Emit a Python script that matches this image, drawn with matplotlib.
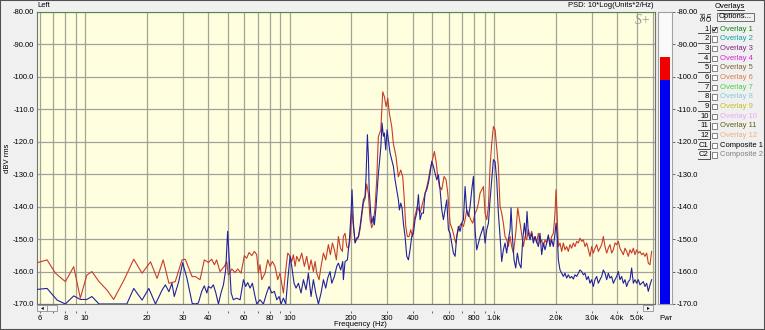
import matplotlib
matplotlib.use("Agg")
import matplotlib.pyplot as plt
from matplotlib.patches import Rectangle
from matplotlib.lines import Line2D
from matplotlib.ticker import FixedLocator, NullLocator, NullFormatter

plt.rcParams['font.family'] = ['Liberation Sans', 'DejaVu Sans']

# ---- spectrum traces (frequency in Hz, PSD in dB) ----
freq_red = [
    5.82, 6.52, 7.16, 8.01, 8.80, 9.48, 10.2, 10.8, 11.7, 12.8, 13.8, 15.5, 17.3, 19.0, 20.9, 22.5,
    24.1, 25.7, 27.6, 29.8, 30.9, 33.4,
    34.5, 36.5, 38.3, 40.1, 41.6, 42.9, 44.0, 45.7, 48.0, 49.3, 50.2, 52.2, 54.1, 55.8, 57.9, 60.1,
    61.7, 63.4, 65.3, 67.3, 69.1, 70.4, 71.7, 73.1, 75.9, 78.2, 80.3, 82.4, 84.9, 87.5, 89.8, 93.3,
    95.8, 98.0, 100.6, 102.5, 104.4, 106.4, 108.4, 111.3, 114.7, 118.2, 121.3, 124.5, 127.4, 130.8,
    133.3, 135.8, 139.4, 142.6, 146.4, 150.3, 154.8, 158.4, 162.0, 165.7, 169.4, 173.3, 177.3, 181.3,
    183.3, 186.8, 190.4, 194.0, 197.6, 201.4, 205.2, 209.1, 213.0, 217.1, 221.2, 225.4, 229.6, 234.0,
    238.4, 242.9, 247.5, 252.2, 257.0, 261.9, 266.8, 271.8, 279.3, 285.6, 290.9, 296.5, 302.2, 307.6,
    316.0, 321.8, 331.7, 340.4, 349.8, 357.7, 363.0, 370.0, 376.9, 384.1, 391.3, 398.8, 406.4, 414.0,
    421.9, 434.7, 451.4, 465.3, 477.5, 486.6, 499.6, 510.9, 520.6, 530.5, 540.6, 554.9, 569.6, 582.7,
    593.7, 609.5, 625.8, 637.6, 649.7, 661.9, 677.1, 692.6, 708.3, 721.7, 735.4, 749.3, 769.3, 786.8,
    807.7, 823.0, 838.6, 854.5, 870.7, 887.2, 904.0, 921.1, 938.6, 956.3, 974.4, 992.9, 1011.7,
    1049.9, 1069.9, 1090.1, 1110.8, 1131.7, 1153.2, 1175.0, 1197.4, 1219.9, 1243.2, 1276.4, 1305.6,
    1325.2, 1355.3, 1391.4, 1417.4, 1444.6, 1471.5, 1499.4, 1527.8, 1556.7, 1586.2, 1616.2, 1646.8,
    1678.0, 1709.8, 1742.3, 1775.2, 1808.9, 1843.0, 1878.1, 1913.5, 1949.9, 1986.7, 2009.2, 2039.2,
    2062.6, 2101.7, 2141.5, 2182.1, 2223.4, 2265.6, 2308.4, 2352.2, 2396.6, 2442.2, 2488.3, 2535.6,
    2583.4, 2632.6, 2682.2, 2733.3, 2784.7, 2837.8, 2891.2, 2946.3, 3001.7, 3058.9, 3116.5, 3175.9,
    3235.6, 3297.3, 3359.3, 3423.4, 3487.8, 3554.3, 3621.1, 3690.2, 3759.5, 3831.3, 3903.3, 3977.8,
    4052.5, 4129.9, 4207.4, 4287.8, 4368.3, 4451.8, 4535.3, 4622.0, 4708.7, 4798.7, 4888.7, 4982.2,
    5075.6, 5172.7, 5269.7, 5370.5, 5471.1, 5575.9, 5680.3, 5789.1, 5897.5,
]
psd_red = [
    -157.3, -156.4, -160.5, -163.1, -158.5, -168.2, -161.1, -160.0, -163.1, -165.7, -168.6, -162.6,
    -156.2, -160.5, -157.0, -162.1, -156.4, -163.6, -163.1, -156.4, -156.2, -161.6,
    -161.5, -162.5, -156.4, -157.2, -156.2, -157.9, -156.4, -160.0, -158.4, -156.9, -161.0, -159.2,
    -160.3, -159.2, -160.5, -155.1, -155.9, -154.1, -155.1, -153.8, -154.8, -160.5, -157.9, -162.5,
    -160.5, -156.4, -158.4, -156.9, -158.4, -162.5, -160.5, -166.6, -159.5, -154.3, -155.3, -156.9,
    -154.8, -158.4, -155.3, -156.9, -154.3, -158.4, -155.3, -159.5, -156.4, -160.0, -156.9, -160.5,
    -162.5, -158.4, -154.3, -156.4, -151.7, -154.8, -151.2, -153.3, -156.4, -149.2, -152.8, -153.8,
    -149.2, -148.2, -152.3, -152.8, -150.2, -141.0, -146.0, -151.0, -150.0, -149.5, -147.0, -143.0,
    -139.0, -137.5, -133.0, -136.0, -144.0, -146.5, -145.1, -140.0, -131.7, -118.4, -116.4, -104.6,
    -106.1, -109.2, -106.6, -111.2, -115.3, -120.5, -124.6, -130.8, -128.7, -130.8, -136.5, -146.1,
    -149.2, -149.2, -147.1, -149.2, -144.0, -142.0, -139.9, -142.0, -137.9, -134.8, -131.7, -128.6,
    -125.5, -123.0, -126.1, -130.7, -133.8, -134.8, -130.7, -131.7, -135.8, -145.1, -147.1, -149.2,
    -151.2, -148.2, -146.1, -145.1, -146.1, -144.0, -141.0, -142.0, -144.0, -145.1, -142.0, -141.0,
    -138.9, -135.8, -134.8, -133.8, -142.0, -144.0, -139.9, -127.6, -120.4, -115.3, -116.3,
    -127.6, -139.9, -142.0, -145.1, -149.2, -150.2, -152.3, -149.2, -152.3, -154.3, -148.2, -140.4,
    -143.0, -147.1, -152.3, -149.2, -150.2, -147.1, -149.2, -147.6, -150.2, -149.2, -151.2, -148.2,
    -151.2, -150.2, -152.3, -150.2, -151.2, -149.2, -151.2, -149.2, -148.2, -142.0, -134.8, -144.0,
    -152.3, -151.2, -153.8, -151.2, -153.3, -152.3, -153.8, -151.7, -152.8, -151.2, -152.3, -150.7,
    -151.2, -149.7, -150.7, -150.2, -152.3, -151.2, -153.3, -155.3, -152.3, -154.3, -152.8, -151.7,
    -153.8, -152.8, -151.7, -149.2, -152.3, -154.3, -152.8, -151.7, -154.3, -153.3, -151.2, -151.7,
    -150.7, -152.8, -153.8, -154.8, -152.8, -153.8, -155.3, -153.3, -154.3, -152.8, -154.8, -153.3,
    -154.3, -153.8, -154.8, -154.3, -155.3, -154.3, -157.4, -157.9, -153.8,
]

freq_blue = [
    5.82, 6.52, 7.30, 8.01, 8.80, 9.48, 10.2, 10.8, 11.7, 16.0, 17.3, 19.0, 20.5, 22.1, 23.8, 24.7,
    25.7, 26.6, 27.3, 28.7, 30.0, 31.5, 33.4,
    34.5, 35.8, 37.2, 38.3, 39.4, 40.1, 41.3, 42.4, 43.6, 44.9, 46.2, 47.5, 48.7, 49.8, 50.6, 51.8,
    53.1, 55.1, 57.3, 59.5, 61.0, 62.4, 64.1, 65.8, 67.8, 69.1, 71.7, 74.5, 77.3, 79.4, 81.8, 84.3,
    86.6, 88.9, 90.9, 93.3, 95.8, 98.0, 100.6, 102.5, 105.2, 107.6, 110.5, 113.8, 116.9, 120.4, 123.6,
    127.4, 130.8, 134.3, 138.4, 142.6, 146.4, 150.3, 153.7, 157.8, 160.8, 165.7, 170.1, 173.3, 177.9,
    182.0,
    183.3, 186.8, 191.8, 196.2, 199.9, 202.1, 205.2, 209.1, 213.0, 217.1, 221.2, 225.4, 229.6, 234.0,
    236.6, 240.2, 242.9, 245.1, 249.4, 252.2, 257.0, 259.9, 264.9, 268.9, 271.9, 275.0, 279.6, 283.3,
    287.6, 290.9, 295.3, 299.8, 304.3, 310.1, 315.9, 321.9, 328.0, 334.3, 340.6, 344.5, 349.6, 355.0,
    360.3, 367.2, 374.1, 381.2, 388.4, 395.8, 403.3, 410.9, 418.7, 426.7, 434.7, 443.0, 451.4, 459.9,
    468.7, 477.5, 486.6, 495.8, 505.2, 514.8, 524.5, 534.5, 544.6, 554.9, 565.4, 576.1, 587.1, 598.2,
    609.5, 621.1, 632.8, 644.8, 657.0, 669.5, 682.2, 695.1, 708.3, 721.7, 735.4, 749.3, 763.5, 778.0,
    792.7, 807.7, 823.0, 838.6, 854.5, 870.7, 887.2, 904.0, 921.1, 938.6, 956.3, 974.4, 992.9,
    1011.3, 1030.4, 1049.9, 1069.9, 1090.1, 1110.8, 1131.7, 1153.2, 1175.0, 1197.4, 1211.0, 1229.2,
    1252.6, 1276.4, 1300.5, 1325.2, 1355.3, 1381.0, 1407.2, 1428.5, 1450.0, 1471.5, 1499.4, 1527.8,
    1556.7, 1586.2, 1616.2, 1646.8, 1678.0, 1709.8, 1742.3, 1775.2, 1808.9, 1843.0, 1878.1, 1913.5,
    1949.9, 1986.7, 2009.2, 2039.2, 2062.6, 2101.7, 2141.5, 2182.1, 2223.4, 2265.6, 2308.4, 2352.2,
    2396.6, 2442.2, 2488.3, 2535.6, 2583.4, 2632.6, 2682.2, 2733.3, 2784.7, 2837.8, 2891.2, 2946.3,
    3001.7, 3058.9, 3116.5, 3175.9, 3235.6, 3297.3, 3359.3, 3423.4, 3487.8, 3554.3, 3621.1, 3690.2,
    3759.5, 3831.3, 3903.3, 3977.8, 4052.5, 4129.9, 4207.4, 4287.8, 4368.3, 4451.8, 4535.3, 4622.0,
    4708.7, 4798.7, 4888.7, 4982.2, 5075.6, 5172.7, 5269.7, 5370.5, 5471.1, 5575.9, 5680.3, 5789.1,
    5897.5,
]
psd_blue = [
    -165.5, -165.2, -168.8, -170.0, -167.5, -168.6, -168.6, -167.7, -170.0, -170.0, -165.2, -168.8,
    -165.2, -170.0, -165.7, -164.1, -166.2, -163.6, -167.7, -163.1, -157.3, -162.1, -169.8,
    -170.0, -169.7, -166.1, -164.4, -166.6, -164.6, -165.1, -164.1, -166.6, -170.0, -166.6, -164.1,
    -159.5, -147.6, -155.3, -166.6, -168.7, -168.2, -168.7, -162.5, -164.6, -163.4, -165.1, -163.6,
    -167.7, -170.0, -168.7, -170.0, -166.6, -164.6, -166.6, -166.1, -168.7, -167.7, -170.0, -168.2,
    -170.0, -162.5, -155.3, -158.4, -163.6, -165.1, -163.6, -166.6, -162.5, -165.6, -160.5, -167.7,
    -162.5, -166.6, -170.0, -166.6, -162.5, -165.1, -162.0, -160.0, -163.6, -161.5, -158.4, -157.4,
    -159.5, -156.9,
    -162.5, -156.9, -156.4, -150.2, -142.0, -134.8, -145.1, -151.2, -149.7, -149.2, -146.1, -142.0,
    -137.9, -136.8, -130.7, -117.8, -124.5, -134.8, -142.0, -145.1, -143.0, -145.6, -139.9, -133.8,
    -129.7, -126.6, -121.4, -114.2, -118.3, -117.3, -122.5, -116.3, -119.4, -123.5, -125.5, -127.6,
    -131.7, -134.8, -137.9, -141.0, -138.9, -140.4, -145.1, -149.2, -155.3, -156.4, -153.3, -149.2,
    -148.2, -144.0, -142.0, -136.3, -144.0, -142.0, -142.0, -135.8, -134.8, -132.7, -129.7, -126.1,
    -127.6, -129.7, -131.7, -130.2, -134.8, -140.9, -144.0, -141.0, -137.9, -147.1, -148.2, -151.2,
    -154.3, -155.3, -149.2, -146.1, -147.6, -145.1, -144.0, -133.8, -141.5, -143.0, -140.0, -134.8,
    -130.7, -147.1, -153.3, -151.2, -149.2, -147.6, -146.1, -151.2, -147.1, -145.1, -137.9, -131.7,
    -125.5,
    -126.1, -131.7, -142.0, -149.2, -156.9, -153.3, -151.2, -154.3, -150.2, -147.1, -140.4, -149.2,
    -156.4, -158.9, -154.3, -157.4, -158.9, -150.2, -145.1, -149.2, -141.5, -148.2, -150.2, -148.2,
    -151.2, -149.2, -150.7, -152.3, -148.2, -154.8, -151.2, -153.3, -151.2, -148.7, -152.3, -150.2,
    -152.3, -148.2, -145.1, -149.2, -156.4, -159.5, -160.5, -161.5, -160.5, -162.0, -161.0, -162.0,
    -161.5, -162.3, -161.0, -161.5, -160.5, -159.5, -160.0, -161.0, -160.5, -162.5, -161.5, -163.6,
    -162.5, -164.6, -162.5, -161.5, -163.6, -162.5, -161.5, -159.5, -160.5, -162.5, -160.5, -162.0,
    -161.5, -163.6, -162.5, -161.5, -160.0, -162.5, -161.5, -163.6, -162.5, -164.6, -163.1, -162.5,
    -158.9, -163.6, -162.5, -163.6, -162.5, -164.1, -163.6, -163.1, -164.6, -163.6, -166.1, -164.1,
    -162.5,
]

# ---- power meter ----
pwr_level = -101.0
pwr_peak = -93.9

# ---- axes ticks ----
y_ticks = [-80, -90, -100, -110, -120, -130, -140, -150, -160, -170]
y_tick_labels = ['-80.00', '-90.00', '-100.0', '-110.0', '-120.0', '-130.0',
                 '-140.0', '-150.0', '-160.0', '-170.0']
x_ticks = [6, 8, 10, 20, 30, 40, 60, 80, 100, 200, 300, 400, 600, 800,
           1000, 2000, 3000, 4000, 5000]
x_tick_labels = ['6', '8', '10', '20', '30', '40', '60', '80', '100', '200', '300',
                 '400', '600', '800', '1.0k', '2.0k', '3.0k', '4.0k', '5.0k']
x_minor_ticks = [7, 9, 50, 70, 90, 500, 700, 900]
grid_freqs = [6, 7, 8, 9, 10, 20, 30, 40, 50, 60, 70, 80, 90, 100, 200, 300, 400,
              500, 600, 700, 800, 900, 1000, 2000, 3000, 4000, 5000, 6000]
f_min, f_max = 5.82, 6125.0
db_min, db_max = -170.0, -80.0

# ---- overlay list ----
sel_labels = ['1', '2', '3', '4', '5', '6', '7', '8', '9', '10', '11', '12', 'C1', 'C2']
overlay_names = ['Overlay 1', 'Overlay 2', 'Overlay 3', 'Overlay 4', 'Overlay 5',
                 'Overlay 6', 'Overlay 7', 'Overlay 8', 'Overlay 9', 'Overlay 10',
                 'Overlay 11', 'Overlay 12', 'Composite 1', 'Composite 2']
overlay_colors = ['#108010', '#10A0A8', '#802080', '#D820D8', '#806030', '#E07848',
                  '#40D040', '#88C8E0', '#C0C020', '#E8A8F0', '#606010', '#F0B078',
                  '#000000', '#808080']
overlay_on = [True] + [False] * 13

W, H = 765, 330
FS = 5.5


def box(x0, y0, x1, y1):
    return [x0 / W, 1 - y1 / H, (x1 - x0) / W, (y1 - y0) / H]


def fx(x):
    return x / W


def fy(y):
    return 1 - y / H


fig = plt.figure(figsize=(W / 100, H / 100), dpi=100)
fig.patch.set_facecolor('#F0F0F0')

# ---- main spectrum axes ----
ax = fig.add_axes(box(37, 12, 655, 304))
ax.set_facecolor('#FFFFE0')
ax.set_xscale('log')
ax.set_xlim(f_min, f_max)
ax.set_ylim(db_min, db_max)

for f in grid_freqs:
    ax.axvline(f, color='#A4A290', lw=0.9, zorder=1)
for v in y_ticks:
    ax.axhline(v, color='#A0A0A0', lw=0.9, zorder=1)

ax.plot(freq_red, psd_red, color='#C83C28', lw=0.8, zorder=3)
ax.plot(freq_blue, psd_blue, color='#22229C', lw=0.8, zorder=4)

ax.xaxis.set_major_locator(NullLocator())
ax.xaxis.set_minor_locator(NullLocator())
ax.set_yticks(y_ticks)
ax.set_yticklabels(y_tick_labels)
ax.tick_params(axis='y', length=0, pad=2, labelsize=FS)
for s in ax.spines.values():
    s.set_color('#707070')
    s.set_linewidth(0.8)
ax.spines['top'].set_color('#4E8A4A')

sec = ax.secondary_xaxis(-7 / 292)
sec.xaxis.set_major_locator(FixedLocator(x_ticks))
sec.set_xticklabels(x_tick_labels)
sec.xaxis.set_minor_locator(FixedLocator(x_minor_ticks))
sec.xaxis.set_minor_formatter(NullFormatter())
sec.tick_params(which='both', length=1.6, width=0.6, pad=1.2, labelsize=FS,
                direction='out', color='#505050')
sec.spines['bottom'].set_visible(False)

# scrollbar buttons under the plot
for (x0, x1, sym) in [(37, 47, '\u25c2'), (47, 57, ''), (643, 653, '\u25b8')]:
    fig.patches.append(Rectangle((fx(x0), fy(311)), (x1 - x0) / W, 6 / H,
                                 transform=fig.transFigure, facecolor='#F4F4F4',
                                 edgecolor='#909090', lw=0.6))
    if sym:
        fig.text(fx((x0 + x1) / 2), fy(308), sym, ha='center', va='center',
                 fontsize=4, family=['DejaVu Sans'])

# titles and axis captions
fig.text(fx(37), fy(5.5), 'Left', ha='left', va='center', fontsize=FS)
fig.text(fx(654), fy(5.5), 'PSD: 10*Log(Units*2/Hz)', ha='right', va='center', fontsize=FS)
fig.text(fx(643), fy(20), 'S+', ha='center', va='center', fontsize=10,
         family=['Liberation Serif'], style='italic', color='#9A9A9A')
fig.text(fx(8), fy(158), 'dBV rms', rotation=90, ha='center', va='center', fontsize=FS)
fig.text(fx(360), fy(325), 'Frequency (Hz)', ha='center', va='center', fontsize=FS)

# ---- power meter ----
bax = fig.add_axes(box(658, 12, 672, 304))
bax.set_facecolor('#FAFAFA')
bax.set_xlim(0, 1)
bax.set_ylim(db_min, db_max)
bax.bar(0.5, pwr_level - db_min, bottom=db_min, width=0.72, color='#0000F0')
bax.bar(0.5, pwr_peak - pwr_level, bottom=pwr_level, width=0.72, color='#F00000')
bax.set_xticks([])
bax.yaxis.tick_right()
bax.set_yticks(y_ticks)
bax.set_yticklabels(y_tick_labels)
bax.tick_params(axis='y', length=2.2, width=0.6, pad=1.2, labelsize=FS, color='#505050')
for s in bax.spines.values():
    s.set_color('#A0A0A0')
    s.set_linewidth(0.8)
fig.text(fx(666), fy(318), 'Pwr', ha='center', va='center', fontsize=FS)

# ---- overlay selector ----
fig.text(fx(730), fy(6.5), 'Overlays', ha='center', va='center', fontsize=FS)
fig.add_artist(Line2D([fx(717), fx(744)], [fy(10), fy(10)], color='black', lw=0.5))
fig.text(fx(704.5), fy(16.5), 'Sel', rotation=90, ha='center', va='center', fontsize=4.8)
fig.text(fx(710.5), fy(16.5), 'On', rotation=90, ha='center', va='center', fontsize=4.8)
fig.patches.append(Rectangle((fx(716.5), fy(21)), 37 / W, 8.5 / H, transform=fig.transFigure,
                             facecolor='#F0F0F0', edgecolor='#707070', lw=0.7))
fig.text(fx(735), fy(16.8), 'Options...', ha='center', va='center', fontsize=FS)

for i, (lab, name, col, on) in enumerate(zip(sel_labels, overlay_names, overlay_colors, overlay_on)):
    yc = 29.3 + i * 9.65
    fig.add_artist(Line2D([fx(698), fx(710), fx(710)], [fy(yc + 4), fy(yc + 4), fy(yc - 4)],
                          color='#505050', lw=0.7))
    fig.text(fx(708.5), fy(yc), lab, ha='right', va='center', fontsize=FS)
    fig.patches.append(Rectangle((fx(711.8), fy(yc + 2.8)), 5.4 / W, 5.4 / H,
                                 transform=fig.transFigure, facecolor='white',
                                 edgecolor='#707070', lw=0.6))
    if on:
        fig.add_artist(Line2D([fx(712.8), fx(714.2), fx(716.4)],
                              [fy(yc), fy(yc + 1.8), fy(yc - 1.8)], color='black', lw=0.7))
    fig.text(fx(719.5), fy(yc), name, ha='left', va='center', fontsize=FS, color=col)

# outer frame
fig.patches.append(Rectangle((0, 0), 1, 1, transform=fig.transFigure, fill=False,
                             edgecolor='#505050', lw=1.5))

fig.savefig('out.png', dpi=100, facecolor=fig.get_facecolor())
